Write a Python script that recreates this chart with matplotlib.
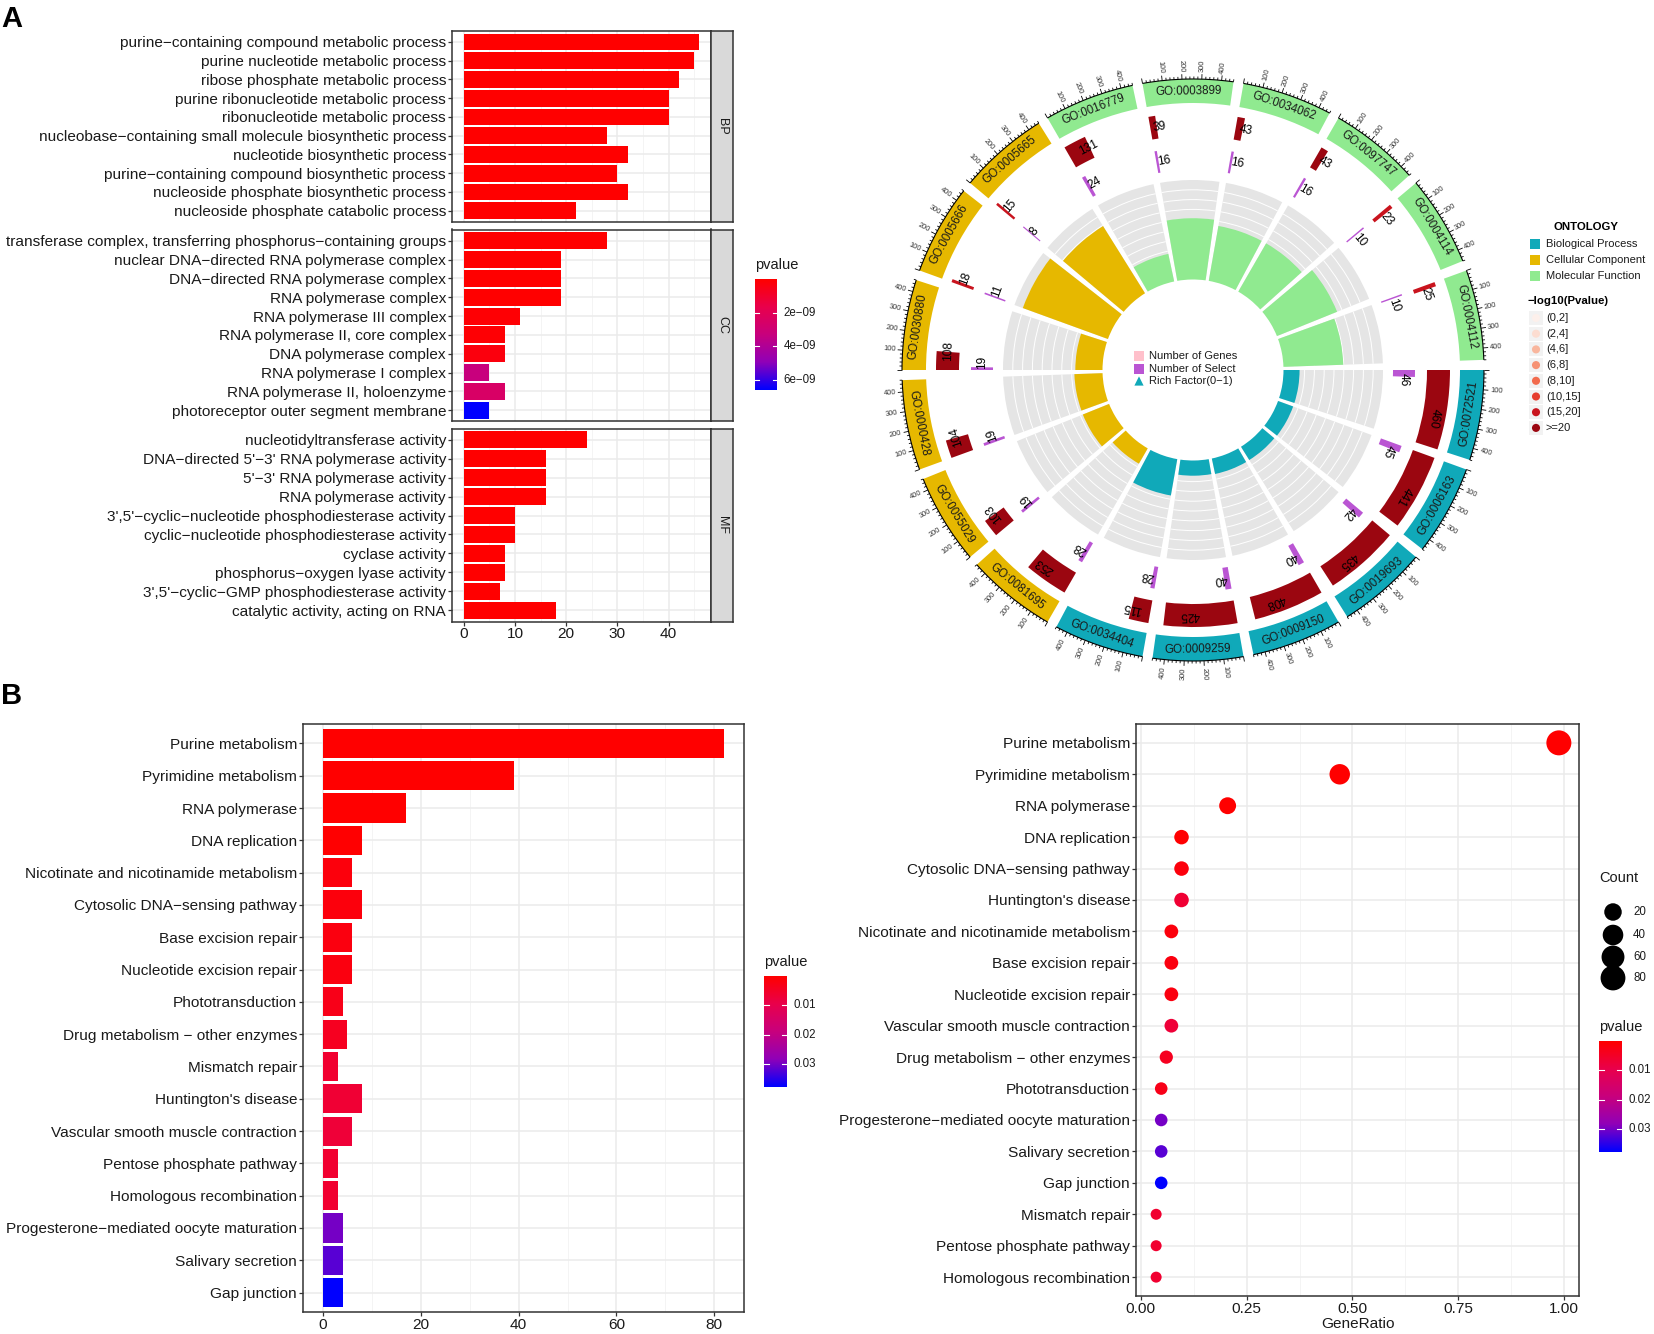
import numpy as np
import matplotlib
matplotlib.use('Agg')
import matplotlib.pyplot as plt
from matplotlib.patches import Wedge, Arc, Rectangle
from matplotlib.collections import LineCollection
from matplotlib.colors import LinearSegmentedColormap

plt.rcParams['font.family'] = ['Liberation Sans', 'DejaVu Sans']

W, H = 1654, 1334
M = '\u2212'

# ---------------- panel A: GO bar chart ----------------
bp_terms = ['purine' + M + 'containing compound metabolic process',
            'purine nucleotide metabolic process',
            'ribose phosphate metabolic process',
            'purine ribonucleotide metabolic process',
            'ribonucleotide metabolic process',
            'nucleobase' + M + 'containing small molecule biosynthetic process',
            'nucleotide biosynthetic process',
            'purine' + M + 'containing compound biosynthetic process',
            'nucleoside phosphate biosynthetic process',
            'nucleoside phosphate catabolic process']
bp_count = [46, 45, 42, 40, 40, 28, 32, 30, 32, 22]
bp_p = [1e-20, 1e-20, 1e-19, 1e-18, 1e-18, 1e-12, 1e-13, 1e-13, 1e-12, 1e-11]

cc_terms = ['transferase complex, transferring phosphorus' + M + 'containing groups',
            'nuclear DNA' + M + 'directed RNA polymerase complex',
            'DNA' + M + 'directed RNA polymerase complex',
            'RNA polymerase complex',
            'RNA polymerase III complex',
            'RNA polymerase II, core complex',
            'DNA polymerase complex',
            'RNA polymerase I complex',
            'RNA polymerase II, holoenzyme',
            'photoreceptor outer segment membrane']
cc_count = [28, 19, 19, 19, 11, 8, 8, 5, 8, 5]
cc_p = [1e-12, 1e-11, 1e-11, 1e-11, 1e-10, 1e-10, 3e-10, 3.3e-09, 2.5e-09, 6.6e-09]

mf_terms = ['nucleotidyltransferase activity',
            'DNA' + M + 'directed 5\'' + M + '3\' RNA polymerase activity',
            '5\'' + M + '3\' RNA polymerase activity',
            'RNA polymerase activity',
            '3\',5\'' + M + 'cyclic' + M + 'nucleotide phosphodiesterase activity',
            'cyclic' + M + 'nucleotide phosphodiesterase activity',
            'cyclase activity',
            'phosphorus' + M + 'oxygen lyase activity',
            '3\',5\'' + M + 'cyclic' + M + 'GMP phosphodiesterase activity',
            'catalytic activity, acting on RNA']
mf_count = [24, 16, 16, 16, 10, 10, 8, 8, 7, 18]
mf_p = [1e-15, 1e-14, 1e-14, 1e-14, 1e-12, 1e-12, 1e-11, 1e-11, 1e-11, 1e-11]

go_ticks = [2e-09, 4e-09, 6e-09]
go_tick_labels = ['2e' + M + '09', '4e' + M + '09', '6e' + M + '09']

# ---------------- panel A: GO circle ----------------
go_ids = ['GO:0072521', 'GO:0006163', 'GO:0019693', 'GO:0009150', 'GO:0009259', 'GO:0034404',
          'GO:0081695', 'GO:0055029', 'GO:0000428', 'GO:0030880', 'GO:0005666', 'GO:0005665',
          'GO:0016779', 'GO:0003899', 'GO:0034062', 'GO:0097747', 'GO:0004114', 'GO:0004112']
go_ont = ['BP'] * 6 + ['CC'] * 6 + ['MF'] * 6
go_genes = [460, 441, 435, 408, 425, 115, 253, 103, 104, 108, 18, 15, 131, 39, 43, 43, 23, 25]
go_select = [46, 45, 42, 40, 40, 28, 28, 19, 19, 19, 11, 8, 24, 16, 16, 16, 10, 10]
go_rich = [0.10, 0.10, 0.097, 0.098, 0.094, 0.243, 0.111, 0.184, 0.183, 0.176,
           0.611, 0.533, 0.183, 0.41, 0.372, 0.372, 0.435, 0.40]
go_plog_class = [7, 7, 7, 7, 7, 7, 7, 7, 7, 7, 6, 6, 7, 7, 7, 7, 6, 6]

ont_names = ['Biological Process', 'Cellular Component', 'Molecular Function']
ont_colors = {'BP': '#10A9B9', 'CC': '#E6B800', 'MF': '#90EA90'}
plog_labels = ['(0,2]', '(2,4]', '(4,6]', '(6,8]', '(8,10]', '(10,15]', '(15,20]', '>=20']
plog_colors = ['#FDF0EB', '#FCDDD1', '#F9B69D', '#F69274', '#F26B4D', '#E63D2E', '#C9141E', '#9B0610']

# ---------------- panel B: KEGG ----------------
kegg_terms = ['Purine metabolism', 'Pyrimidine metabolism', 'RNA polymerase', 'DNA replication',
              'Nicotinate and nicotinamide metabolism', 'Cytosolic DNA' + M + 'sensing pathway',
              'Base excision repair', 'Nucleotide excision repair', 'Phototransduction',
              'Drug metabolism ' + M + ' other enzymes', 'Mismatch repair', "Huntington's disease",
              'Vascular smooth muscle contraction', 'Pentose phosphate pathway',
              'Homologous recombination', 'Progesterone' + M + 'mediated oocyte maturation',
              'Salivary secretion', 'Gap junction']
kegg_count = [82, 39, 17, 8, 6, 8, 6, 6, 4, 5, 3, 8, 6, 3, 3, 4, 4, 4]
kegg_p = [1e-30, 1e-12, 1e-08, 2e-04, 1.5e-03, 1.5e-03, 2e-03, 2e-03, 3e-03, 4e-03,
          6e-03, 6.5e-03, 7e-03, 6e-03, 6e-03, 0.030, 0.032, 0.0378]

dot_terms = ['Purine metabolism', 'Pyrimidine metabolism', 'RNA polymerase', 'DNA replication',
             'Cytosolic DNA' + M + 'sensing pathway', "Huntington's disease",
             'Nicotinate and nicotinamide metabolism', 'Base excision repair',
             'Nucleotide excision repair', 'Vascular smooth muscle contraction',
             'Drug metabolism ' + M + ' other enzymes', 'Phototransduction',
             'Progesterone' + M + 'mediated oocyte maturation', 'Salivary secretion',
             'Gap junction', 'Mismatch repair', 'Pentose phosphate pathway',
             'Homologous recombination']
dot_ratio = [0.988, 0.470, 0.205, 0.096, 0.096, 0.096, 0.072, 0.072, 0.072, 0.072,
             0.060, 0.048, 0.048, 0.048, 0.048, 0.036, 0.036, 0.036]
dot_count = [82, 39, 17, 8, 8, 8, 6, 6, 6, 6, 5, 4, 4, 4, 4, 3, 3, 3]
dot_p = [1e-30, 1e-12, 1e-08, 2e-04, 1.5e-03, 6.5e-03, 1.5e-03, 2e-03, 2e-03, 7e-03,
         4e-03, 3e-03, 0.030, 0.032, 0.0378, 6e-03, 6e-03, 6e-03]

kegg_ticks = [0.01, 0.02, 0.03]
kegg_tick_labels = ['0.01', '0.02', '0.03']
size_breaks = [20, 40, 60, 80]

# red -> blue gradient like ggplot
cmap = LinearSegmentedColormap.from_list(
    'rb', [(0, '#FF0000'), (0.25, '#E9004C'), (0.5, '#C8007D'), (0.75, '#9000B8'), (1, '#0000FF')])

LAB = 11.1   # axis text size
LEG = 8.3    # legend text size

fig = plt.figure(figsize=(W / 100, H / 100), dpi=100)


def add_ax(x0, y0, x1, y1):
    return fig.add_axes([x0 / W, 1 - y1 / H, (x1 - x0) / W, (y1 - y0) / H])


def gg_style(ax, xticks, xminor, show_x=True):
    ax.set_facecolor('white')
    for s in ax.spines.values():
        s.set_color('#333333')
        s.set_linewidth(1.1)
    ax.set_xticks(xticks)
    ax.set_xticks(xminor, minor=True)
    ax.grid(True, which='major', color='#EBEBEB', lw=1.1)
    ax.grid(True, which='minor', axis='x', color='#F2F2F2', lw=0.6)
    ax.set_axisbelow(True)
    ax.tick_params(which='major', colors='#333333', labelcolor='#1A1A1A', length=2.8,
                   width=0.9, labelsize=LAB, pad=1.5)
    ax.tick_params(which='minor', length=0)
    if not show_x:
        ax.tick_params(axis='x', which='both', length=0, labelbottom=False)


# ---- panel A facets
go_norm = plt.Normalize(0, 6.6e-09)
facets = [('BP', bp_terms, bp_count, bp_p, 30.7, 222),
          ('CC', cc_terms, cc_count, cc_p, 229.5, 421.5),
          ('MF', mf_terms, mf_count, mf_p, 428.5, 621.5)]
for name, terms, counts, pv, y0, y1 in facets:
    ax = add_ax(452, y0, 711, y1)
    yy = np.arange(len(terms))
    ax.barh(yy, counts, height=0.9, color=cmap(go_norm(np.array(pv))), zorder=2)
    ax.set_xlim(-2.3, 48.3)
    ax.set_ylim(len(terms) - 0.4, -0.6)
    ax.set_yticks(yy)
    ax.set_yticklabels(terms)
    gg_style(ax, [0, 10, 20, 30, 40], [5, 15, 25, 35, 45], show_x=(name == 'MF'))
    st = add_ax(711, y0, 733, y1)
    st.set_facecolor('#D9D9D9')
    for s in st.spines.values():
        s.set_color('#333333')
        s.set_linewidth(1.1)
    st.set_xticks([])
    st.set_yticks([])
    st.text(0.5, 0.5, name, rotation=-90, ha='center', va='center', fontsize=9,
            color='#1A1A1A', transform=st.transAxes)


def colorbar(x0, y0, x1, y1, vmin, vmax, ticks, labels, title):
    cax = add_ax(x0, y0, x1, y1)
    grad = np.linspace(vmin, vmax, 300).reshape(-1, 1)
    cax.imshow(grad, aspect='auto', cmap=cmap, vmin=vmin, vmax=vmax,
               extent=[0, 1, vmax, vmin])
    for t, lab in zip(ticks, labels):
        cax.plot([0, 0.2], [t, t], color='white', lw=0.8)
        cax.plot([0.8, 1], [t, t], color='white', lw=0.8)
        cax.text(1.3, t, lab, ha='left', va='center', fontsize=LEG, color='#1A1A1A')
    cax.set_xlim(0, 1)
    cax.set_ylim(vmax, vmin)
    cax.axis('off')
    cax.text(0, vmin - (vmax - vmin) * 0.06, title, ha='left', va='bottom', fontsize=10.5,
             color='#1A1A1A')


colorbar(755, 279, 777, 390, 0, 6.6e-09, go_ticks, go_tick_labels, 'pvalue')

# ---- panel B bar chart
kegg_norm = plt.Normalize(0, 0.0378)
ax = add_ax(303, 724, 744, 1312)
yy = np.arange(len(kegg_terms))
ax.barh(yy, kegg_count, height=0.9, color=cmap(kegg_norm(np.array(kegg_p))), zorder=2)
ax.set_xlim(-4.1, 86.1)
ax.set_ylim(len(kegg_terms) - 0.4, -0.6)
ax.set_yticks(yy)
ax.set_yticklabels(kegg_terms)
gg_style(ax, [0, 20, 40, 60, 80], [10, 30, 50, 70])
colorbar(764, 976, 787, 1087, 0, 0.0378, kegg_ticks, kegg_tick_labels, 'pvalue')

# ---- panel B dot plot


def dot_size(c):
    d = 11 + 14 * np.sqrt((np.asarray(c, float) - 3) / 79.0)
    return (d * 0.72) ** 2


ax = add_ax(1136, 724, 1579, 1296)
yy = np.arange(len(dot_terms))
ax.scatter(dot_ratio, yy, s=dot_size(dot_count), c=cmap(kegg_norm(np.array(dot_p))),
           edgecolors='none', zorder=3)
ax.set_xlim(-0.0116, 1.0356)
ax.set_ylim(len(dot_terms) - 0.4, -0.6)
ax.set_yticks(yy)
ax.set_yticklabels(dot_terms)
gg_style(ax, [0, 0.25, 0.5, 0.75, 1.0], [0.125, 0.375, 0.625, 0.875])
ax.set_xticklabels(['0.00', '0.25', '0.50', '0.75', '1.00'])
colorbar(1599, 1041, 1622, 1152, 0, 0.0378, kegg_ticks, kegg_tick_labels, 'pvalue')

# ---------------- overlay (pixel coords, y up) ----------------
ov = fig.add_axes([0, 0, 1, 1])
ov.set_xlim(0, W)
ov.set_ylim(0, H)
ov.axis('off')
ov.patch.set_alpha(0)


def Y(y):
    return H - y


ov.text((1136 + 1579) / 2, Y(1324), 'GeneRatio', fontsize=LAB, ha='center', va='center',
        color='#1A1A1A')

# size legend
ov.text(1599, Y(878), 'Count', fontsize=10.5, ha='left', va='center', color='#1A1A1A')
for b, yb in zip(size_breaks, [912, 935, 957, 978]):
    ov.scatter([1613], [Y(yb)], s=dot_size(b), color='black', edgecolors='none')
    ov.text(1633, Y(yb), str(b), fontsize=LEG, ha='left', va='center', color='#1A1A1A')

# panel letters
ov.text(1, Y(19), 'A', fontsize=21, fontweight='bold', ha='left', va='center')
ov.text(1, Y(696), 'B', fontsize=21, fontweight='bold', ha='left', va='center')

# ---- circle
cx, cy = 1193, Y(370)
XMAX = 460.0
SPAN = 18.0
R_BAND_OUT, R_BAND_IN = 291, 267
R2_OUT, R2_IN = 257, 234
R3_OUT, R3_IN = 222, 200
R4_OUT, R4_IN = 190, 92
RICH_MAX = 0.672


def ang(i, x):
    return -20.0 * i - x / XMAX * SPAN


def pol(r, a):
    t = np.deg2rad(a)
    return cx + r * np.cos(t), cy + r * np.sin(t)


ticks = []
for i, go in enumerate(go_ids):
    a0 = ang(i, 0)
    a1 = ang(i, XMAX)
    col = ont_colors[go_ont[i]]
    # outer band with label
    ov.add_patch(Wedge((cx, cy), R_BAND_OUT, a1, a0, width=R_BAND_OUT - R_BAND_IN,
                       facecolor=col, edgecolor='none'))
    mid = ang(i, XMAX / 2) % 360
    rot = mid - 90 if 0 < mid < 180 else mid + 90
    x, y = pol((R_BAND_OUT + R_BAND_IN) / 2, mid)
    ov.text(x, y, go, rotation=rot, rotation_mode='anchor', ha='center', va='center',
            fontsize=8.4, color='#1A1A1A')
    # axis
    ov.add_patch(Arc((cx, cy), 2 * R_BAND_OUT, 2 * R_BAND_OUT, theta1=a1, theta2=a0,
                     color='black', lw=0.8))
    for xv in range(0, 461, 20):
        ln = 5 if xv % 100 == 0 else 2.5
        a = ang(i, xv)
        ticks.append([pol(R_BAND_OUT, a), pol(R_BAND_OUT + ln, a)])
    for xv in [100, 200, 300, 400]:
        a = ang(i, xv)
        m = (a + 180) % 360 - 180
        if -90 <= m <= 90:
            r_, ha = m, 'left'
        else:
            r_, ha = m - 180, 'right'
        x, y = pol(R_BAND_OUT + 7, a)
        ov.text(x, y, str(xv), rotation=r_, rotation_mode='anchor', ha=ha, va='center',
                fontsize=5.4, color='#333333')
    # number of genes
    ae = ang(i, go_genes[i])
    ov.add_patch(Wedge((cx, cy), R2_OUT, ae, a0, width=R2_OUT - R2_IN,
                       facecolor=plog_colors[go_plog_class[i]], edgecolor='none'))
    at = ang(i, go_genes[i] / 2)
    x, y = pol((R2_OUT + R2_IN) / 2, at)
    ov.text(x, y, str(go_genes[i]), rotation=at - 90, rotation_mode='anchor', ha='left',
            va='center', fontsize=8.6, color='black')
    # number of select
    ae = ang(i, go_select[i])
    ov.add_patch(Wedge((cx, cy), R3_OUT, ae, a0, width=R3_OUT - R3_IN,
                       facecolor='#BA55D3', edgecolor='none'))
    at = ang(i, go_select[i] / 2)
    x, y = pol((R3_OUT + R3_IN) / 2, at)
    ov.text(x, y, str(go_select[i]), rotation=at - 90, rotation_mode='anchor', ha='left',
            va='center', fontsize=8.6, color='black')
    # rich factor
    ov.add_patch(Wedge((cx, cy), R4_OUT, a1, a0, width=R4_OUT - R4_IN,
                       facecolor='#E5E5E5', edgecolor='none'))
    for k in range(1, 10):
        rr = R4_IN + k * (R4_OUT - R4_IN) / 10
        ov.add_patch(Arc((cx, cy), 2 * rr, 2 * rr, theta1=a1, theta2=a0, color='white', lw=0.7))
    rtop = R4_IN + go_rich[i] / RICH_MAX * (R4_OUT - R4_IN)
    ov.add_patch(Wedge((cx, cy), rtop, a1, a0, width=rtop - R4_IN + 1.5,
                       facecolor=col, edgecolor='none'))

ov.add_collection(LineCollection(ticks, colors='black', linewidths=0.6))

# center legend
center_items = [('Number of Genes', '#FFC0CB', 's'), ('Number of Select', '#BA55D3', 's'),
                ('Rich Factor(0' + M + '1)', '#10A9B9', '^')]
for (lab, c, mk), yl in zip(center_items, [356, 369, 381]):
    ov.scatter([1139], [Y(yl)], marker=mk, s=44, color=c, edgecolors='none')
    ov.text(1149, Y(yl), lab, fontsize=8, ha='left', va='center', color='#1A1A1A')

# ontology legend
ov.text(1554, Y(227), 'ONTOLOGY', fontsize=8.2, fontweight='bold', ha='left', va='center')
for lab, key, yl in zip(ont_names, ['BP', 'CC', 'MF'], [244, 260, 276]):
    ov.add_patch(Rectangle((1530, Y(yl) - 5), 10, 10, facecolor=ont_colors[key], edgecolor='none'))
    ov.text(1546, Y(yl), lab, fontsize=8, ha='left', va='center', color='#1A1A1A')

ov.text(1527, Y(301), M + 'log10(Pvalue)', fontsize=8.2, fontweight='bold', ha='left', va='center')
for k, (lab, c) in enumerate(zip(plog_labels, plog_colors)):
    yl = 318 + k * 15.7
    ov.add_patch(Rectangle((1529, Y(yl) - 7), 14, 14, facecolor='#F2F2F2', edgecolor='none'))
    ov.scatter([1536], [Y(yl)], s=34, color=c, edgecolors='none')
    ov.text(1546, Y(yl), lab, fontsize=8, ha='left', va='center', color='#1A1A1A')

fig.savefig('out.png', dpi=100)
